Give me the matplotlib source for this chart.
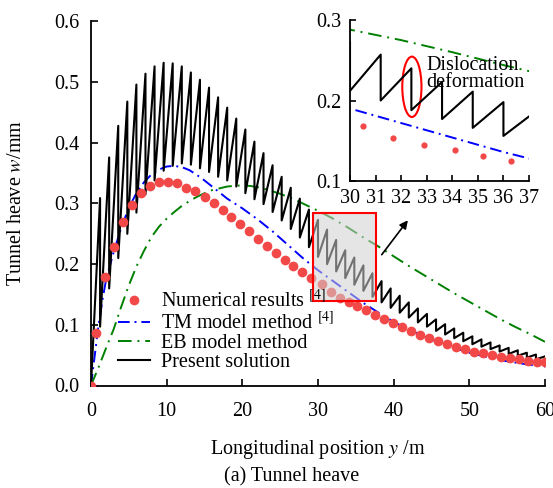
import numpy as np
import matplotlib
matplotlib.use("Agg")
import matplotlib.pyplot as plt
from matplotlib.patches import Rectangle, Ellipse

plt.rcParams['font.family'] = ['Liberation Serif', 'DejaVu Serif']
plt.rcParams['mathtext.fontset'] = 'stix'
plt.rcParams['font.size'] = 14.5

# numerical results (red dots)
num_x = [0, 0.7, 1.9, 3.0, 4.2, 5.4, 6.6, 7.8, 9.0, 10.2, 11.4, 12.6, 13.8, 15.0,
         16.2, 17.4, 18.5, 19.7, 20.9, 22.1, 23.2, 24.4, 25.6, 26.7, 27.9, 29.1,
         30.5, 31.7, 32.9, 34.1, 35.2, 36.3, 37.5, 38.7, 39.9, 41.1, 42.3, 43.5,
         44.7, 45.9, 47.0, 48.2, 49.4, 50.6, 51.8, 53.0, 54.2, 55.4, 56.6, 57.8,
         58.9, 60.0]
num_w = [0, 0.087, 0.179, 0.229, 0.27, 0.298, 0.317, 0.329, 0.335, 0.336, 0.333,
         0.326, 0.32, 0.311, 0.301, 0.29, 0.278, 0.266, 0.255, 0.241, 0.23, 0.218,
         0.207, 0.197, 0.187, 0.178, 0.168, 0.154, 0.145, 0.138, 0.131, 0.125,
         0.117, 0.11, 0.103, 0.096, 0.09, 0.084, 0.078, 0.073, 0.068, 0.064, 0.06,
         0.056, 0.053, 0.05, 0.047, 0.045, 0.043, 0.041, 0.039, 0.038]

# TM model method (blue)
tm_x = [0, 0.5, 1, 1.5, 2, 3, 4, 5, 6, 7, 8, 9, 10, 11, 12, 13, 14, 15, 16, 17,
        18, 20, 22, 24, 26, 28, 30, 32, 34, 36, 38, 40, 42, 44, 46, 48, 50, 52,
        54, 56, 58, 60]
tm_w = [0, 0.05, 0.1, 0.14, 0.175, 0.22, 0.26, 0.293, 0.317, 0.335, 0.348, 0.356,
        0.361, 0.362, 0.36, 0.355, 0.347, 0.338, 0.328, 0.318, 0.308, 0.292, 0.274,
        0.254, 0.232, 0.21, 0.19, 0.172, 0.154, 0.136, 0.12, 0.105, 0.092, 0.081,
        0.071, 0.062, 0.054, 0.048, 0.042, 0.038, 0.034, 0.031]

# EB model method (green)
eb_x = [0, 1, 2, 3, 4, 5, 6, 7, 8, 9, 10, 11, 12, 13, 14, 15, 16, 17, 18, 19, 20,
        21, 22, 23, 24, 25, 26, 27, 28, 29, 30, 32, 34, 36, 38, 40, 42, 44, 46,
        48, 50, 52, 54, 56, 58, 60]
eb_w = [0, 0.03, 0.062, 0.093, 0.13, 0.165, 0.196, 0.222, 0.245, 0.262, 0.275,
        0.286, 0.296, 0.304, 0.311, 0.317, 0.322, 0.325, 0.328, 0.329, 0.33,
        0.329, 0.327, 0.324, 0.32, 0.316, 0.311, 0.306, 0.3, 0.294, 0.288, 0.275,
        0.26, 0.244, 0.229, 0.213, 0.197, 0.182, 0.167, 0.152, 0.138, 0.124,
        0.11, 0.097, 0.085, 0.072]

# present solution: segment joints every 1.2 m
seg_len = 1.2
seg_lo = [0, 0.097, 0.16, 0.21, 0.25, 0.285, 0.315, 0.338, 0.354, 0.362, 0.366,
          0.364, 0.358, 0.352, 0.344, 0.338, 0.328, 0.317, 0.307, 0.299, 0.286,
          0.272, 0.258, 0.244, 0.228, 0.212, 0.2, 0.188, 0.177, 0.166, 0.156,
          0.146, 0.137, 0.128, 0.12, 0.112, 0.104, 0.097, 0.09, 0.084, 0.078,
          0.073, 0.068, 0.064, 0.06, 0.056, 0.052, 0.049, 0.046, 0.043]
seg_hi = [0.309, 0.376, 0.428, 0.468, 0.496, 0.514, 0.526, 0.532, 0.531, 0.526,
          0.516, 0.504, 0.491, 0.475, 0.458, 0.44, 0.422, 0.402, 0.383, 0.363,
          0.344, 0.326, 0.308, 0.29, 0.273, 0.257, 0.24, 0.223, 0.211, 0.198,
          0.185, 0.172, 0.16, 0.148, 0.137, 0.127, 0.118, 0.109, 0.101, 0.094,
          0.087, 0.081, 0.076, 0.071, 0.066, 0.062, 0.058, 0.054, 0.051, 0.048]

ps_x, ps_w = [], []
for k in range(len(seg_lo)):
    ps_x += [k * seg_len, (k + 1) * seg_len]
    ps_w += [seg_lo[k], seg_hi[k]]

red = '#F24848'
blue_ls = (0, (6, 2.5, 1, 2.5))
green_ls = (0, (7, 3, 1, 3))

fig = plt.figure(figsize=(5.53, 4.88), dpi=100)
ax = fig.add_axes([91/553, 1-385.5/488, 454/553, 364/488])

ax.plot(num_x, num_w, 'o', color=red, ms=7, mec='none', label=r'Numerical results $^{[4]}$', zorder=3)
ax.plot(tm_x, tm_w, color='blue', lw=1.4, ls=blue_ls, label=r'TM model method $^{[4]}$')
ax.plot(eb_x, eb_w, color='green', lw=1.4, ls=green_ls, label='EB model method')
ax.plot(ps_x, ps_w, color='black', lw=1.5, label='Present solution')

ax.add_patch(Rectangle((29.3, 0.14), 8.3, 0.144, facecolor=(0.82, 0.82, 0.82, 0.55),
                       edgecolor='red', lw=1.5, zorder=4))
ax.annotate('', xy=(42.1, 0.276), xytext=(38.2, 0.212),
            arrowprops=dict(arrowstyle='-|>', color='black', lw=1.2, mutation_scale=12), zorder=5)

ax.set_xlim(0, 60)
ax.set_ylim(0, 0.6)
ax.set_xticks(range(0, 61, 10))
ax.set_yticks(np.arange(0, 0.61, 0.1))
ax.set_yticklabels(['%.1f' % v for v in np.arange(0, 0.61, 0.1)])
for s in ['top', 'right']:
    ax.spines[s].set_visible(False)
for s in ['left', 'bottom']:
    ax.spines[s].set_linewidth(1.3)
ax.tick_params(direction='in', length=5, width=1.2)
ax.tick_params(axis='x', pad=12)
ax.tick_params(axis='y', pad=8.5)
ax.set_xlabel(r'Longitudinal position $y$ /m', labelpad=12)
ax.set_ylabel(r'Tunnel heave $w$/mm', labelpad=20)
ax.legend(loc='lower left', bbox_to_anchor=(0.042, 0.014), frameon=False,
          handlelength=1.6, labelspacing=0.0, handletextpad=0.55, borderaxespad=0)
fig.text(292/553, 1-477/488, '(a) Tunnel heave', ha='center', va='center')

# inset
ins = fig.add_axes([350/553, 1-181/488, 179/553, 161/488])
ins.patch.set_alpha(0)
ins.plot(num_x, num_w, 'o', color=red, ms=4.5, mec='none')
ins.plot(tm_x, tm_w, color='blue', lw=1.4, ls=blue_ls)
ins.plot(eb_x, eb_w, color='green', lw=1.4, ls=green_ls)
ins.plot(ps_x, ps_w, color='black', lw=1.5)
ins.add_patch(Ellipse((32.42, 0.217), 0.75, 0.075, fill=False, edgecolor='red', lw=1.5))
ins.text(33.0, 0.233, 'Dislocation\ndeformation', linespacing=0.8, va='center')
ins.set_xlim(30, 37)
ins.set_ylim(0.1, 0.3)
ins.set_xticks(range(30, 38))
ins.set_yticks([0.1, 0.2, 0.3])
for s in ['top', 'right']:
    ins.spines[s].set_visible(False)
for s in ['left', 'bottom']:
    ins.spines[s].set_linewidth(1.3)
ins.tick_params(direction='in', length=4, width=1.2, pad=6)

fig.savefig('out.png', dpi=100)
